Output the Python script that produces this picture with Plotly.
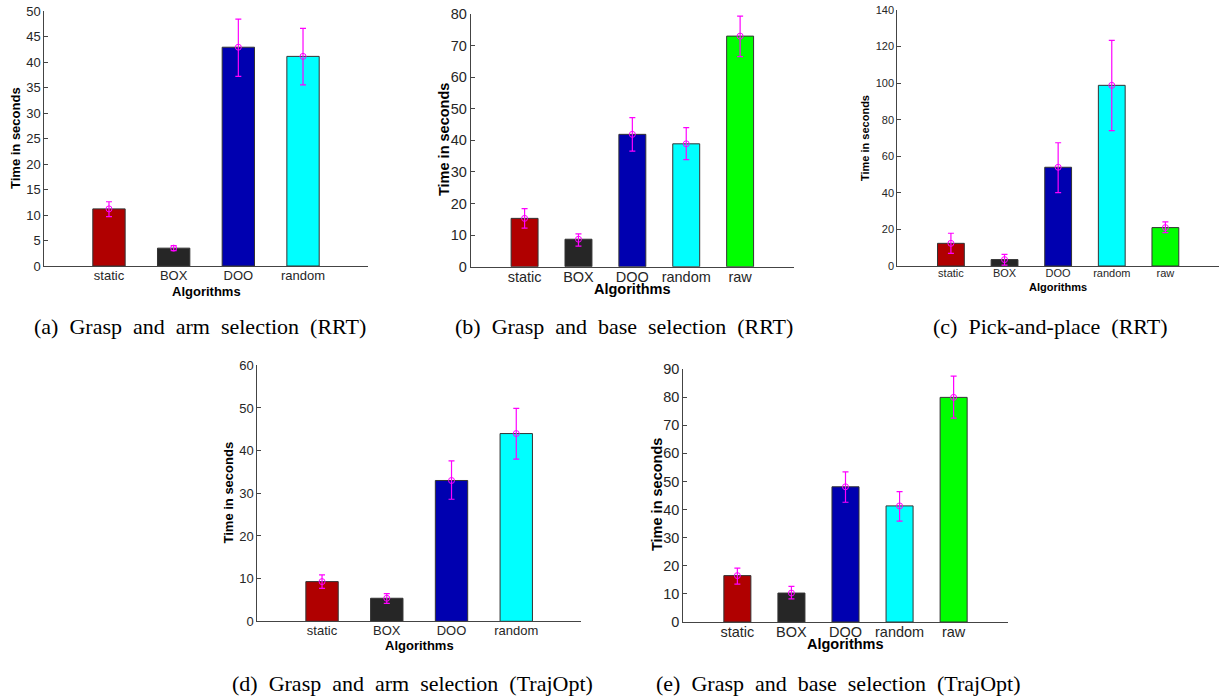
import plotly.graph_objects as go

W, H = 1220, 700

# ---------------- data ----------------
cats4 = ["static", "BOX", "DOO", "random"]
cats5 = ["static", "BOX", "DOO", "random", "raw"]
colors5 = ["#b00000", "#262626", "#0000b0", "#00ffff", "#00ff00"]

# (a) Grasp and arm selection (RRT)
mean_a = [11.2, 3.5, 42.9, 41.1]
hi_a = [12.6, 4.0, 48.4, 46.6]
lo_a = [9.7, 3.0, 37.2, 35.5]

# (b) Grasp and base selection (RRT)
mean_b = [15.3, 8.7, 41.9, 38.9, 73.0]
hi_b = [18.4, 10.4, 47.2, 44.0, 79.3]
lo_b = [12.2, 6.5, 36.6, 33.9, 66.5]

# (c) Pick-and-place (RRT)
mean_c = [12.4, 3.5, 54.0, 98.8, 21.0]
hi_c = [17.9, 6.4, 67.4, 123.4, 24.1]
lo_c = [6.9, 0.5, 40.1, 74.0, 18.2]

# (d) Grasp and arm selection (TrajOpt)
mean_d = [9.3, 5.4, 33.0, 44.0]
hi_d = [10.9, 6.5, 37.6, 49.9]
lo_d = [7.7, 4.2, 28.6, 38.0]

# (e) Grasp and base selection (TrajOpt)
mean_e = [16.5, 10.3, 48.1, 41.3, 79.9]
hi_e = [19.2, 12.7, 53.4, 46.4, 87.5]
lo_e = [13.5, 8.2, 42.6, 35.9, 72.5]

SP = "\u2002"
captions = [
    SP.join(["(a)", "Grasp", "and", "arm", "selection", "(RRT)"]),
    SP.join(["(b)", "Grasp", "and", "base", "selection", "(RRT)"]),
    SP.join(["(c)", "Pick-and-place", "(RRT)"]),
    SP.join(["(d)", "Grasp", "and", "arm", "selection", "(TrajOpt)"]),
    SP.join(["(e)", "Grasp", "and", "base", "selection", "(TrajOpt)"]),
]

# ---------------- layout specs (pixels) ----------------
panels = [
    dict(cats=cats4, mean=mean_a, hi=hi_a, lo=lo_a, ymax=50, dtick=5,
         x0=44.3, x1=367.7, ytop=11, ybot=266, fs=13,
         ytx=15, yty=138, xtx=206, xty=291, capx=200, capy=327),
    dict(cats=cats5, mean=mean_b, hi=hi_b, lo=lo_b, ymax=80, dtick=10,
         x0=470.7, x1=794, ytop=14, ybot=266.7, fs=14.5,
         ytx=444, yty=140, xtx=632.5, xty=288.5, capx=624, capy=327),
    dict(cats=cats5, mean=mean_c, hi=hi_c, lo=lo_c, ymax=140, dtick=20,
         x0=897.3, x1=1219, ytop=10, ybot=266, fs=11,
         ytx=865, yty=138, xtx=1058, xty=287, capx=1050, capy=327),
    dict(cats=cats4, mean=mean_d, hi=hi_d, lo=lo_d, ymax=60, dtick=10,
         x0=257.3, x1=581, ytop=365.3, ybot=621.3, fs=13,
         ytx=228, yty=492.5, xtx=419, xty=645.5, capx=412, capy=683),
    dict(cats=cats5, mean=mean_e, hi=hi_e, lo=lo_e, ymax=90, dtick=10,
         x0=683.3, x1=1007.7, ytop=369, ybot=622, fs=14.5,
         ytx=657, yty=495, xtx=845.5, xty=643.5, capx=838, capy=683),
]

SANS = "Liberation Sans, Arial, Helvetica, sans-serif"
SERIF = "Liberation Serif, Times New Roman, serif"

fig = go.Figure()
layout = dict(width=W, height=H, autosize=False,
              margin=dict(l=0, r=0, t=0, b=0, pad=0, autoexpand=False),
              paper_bgcolor="white", plot_bgcolor="white",
              showlegend=False, annotations=[])

for i, p in enumerate(panels):
    k = "" if i == 0 else str(i + 1)
    n = len(p["cats"])
    xs = list(range(1, n + 1))
    fig.add_trace(go.Bar(
        x=xs, y=p["mean"], width=0.5,
        marker=dict(color=colors5[:n], line=dict(color="#333333", width=1)),
        xaxis="x" + k, yaxis="y" + k, hoverinfo="skip",
    ))
    fig.add_trace(go.Scatter(
        x=xs, y=p["mean"], mode="markers",
        marker=dict(symbol="circle-open", size=6, color="#ff00ff",
                    line=dict(width=1, color="#ff00ff")),
        error_y=dict(type="data", symmetric=False,
                     array=[h - m for h, m in zip(p["hi"], p["mean"])],
                     arrayminus=[m - l for m, l in zip(p["mean"], p["lo"])],
                     color="#ff00ff", thickness=1.2, width=3),
        xaxis="x" + k, yaxis="y" + k, hoverinfo="skip",
    ))
    layout["xaxis" + k] = dict(
        domain=[p["x0"] / W, p["x1"] / W], anchor="y" + k,
        range=[0, n + 1], tickmode="array", tickvals=xs, ticktext=p["cats"],
        showline=True, linecolor="#444444", linewidth=1, mirror=False,
        showgrid=False, zeroline=False, ticks="", automargin=False,
        ticklabelstandoff=-3,
        tickfont=dict(family=SANS, size=p["fs"], color="#262626"),
        fixedrange=True,
    )
    layout["yaxis" + k] = dict(
        domain=[1 - p["ybot"] / H, 1 - p["ytop"] / H], anchor="x" + k,
        range=[0, p["ymax"]], dtick=p["dtick"], tick0=0,
        showline=True, linecolor="#444444", linewidth=1, mirror=False,
        showgrid=False, zeroline=False, ticks="inside", ticklen=4,
        tickcolor="#444444", automargin=False,
        tickfont=dict(family=SANS, size=p["fs"], color="#262626"),
        fixedrange=True,
    )
    layout["annotations"] += [
        dict(text="<b>Time in seconds</b>", xref="paper", yref="paper",
             x=p["ytx"] / W, y=1 - p["yty"] / H, showarrow=False,
             textangle=-90, xanchor="center", yanchor="middle",
             font=dict(family=SANS, size=p["fs"], color="#000000")),
        dict(text="<b>Algorithms</b>", xref="paper", yref="paper",
             x=p["xtx"] / W, y=1 - p["xty"] / H, showarrow=False,
             xanchor="center", yanchor="middle",
             font=dict(family=SANS, size=p["fs"], color="#000000")),
        dict(text=captions[i], xref="paper", yref="paper",
             x=p["capx"] / W, y=1 - p["capy"] / H, showarrow=False,
             xanchor="center", yanchor="middle",
             font=dict(family=SERIF, size=22, color="#000000")),
    ]

fig.update_layout(**layout)
fig.write_html(
    "out.html",
    config={"displayModeBar": False, "staticPlot": True},
    post_script=(
        "document.documentElement.style.margin='0';"
        "document.body.style.margin='0';"
        "document.body.style.overflow='hidden';"
        "var d=document.getElementsByClassName('plotly-graph-div')[0];"
        "d.style.position='fixed';d.style.left='0px';d.style.top='0px';"
    ),
)
